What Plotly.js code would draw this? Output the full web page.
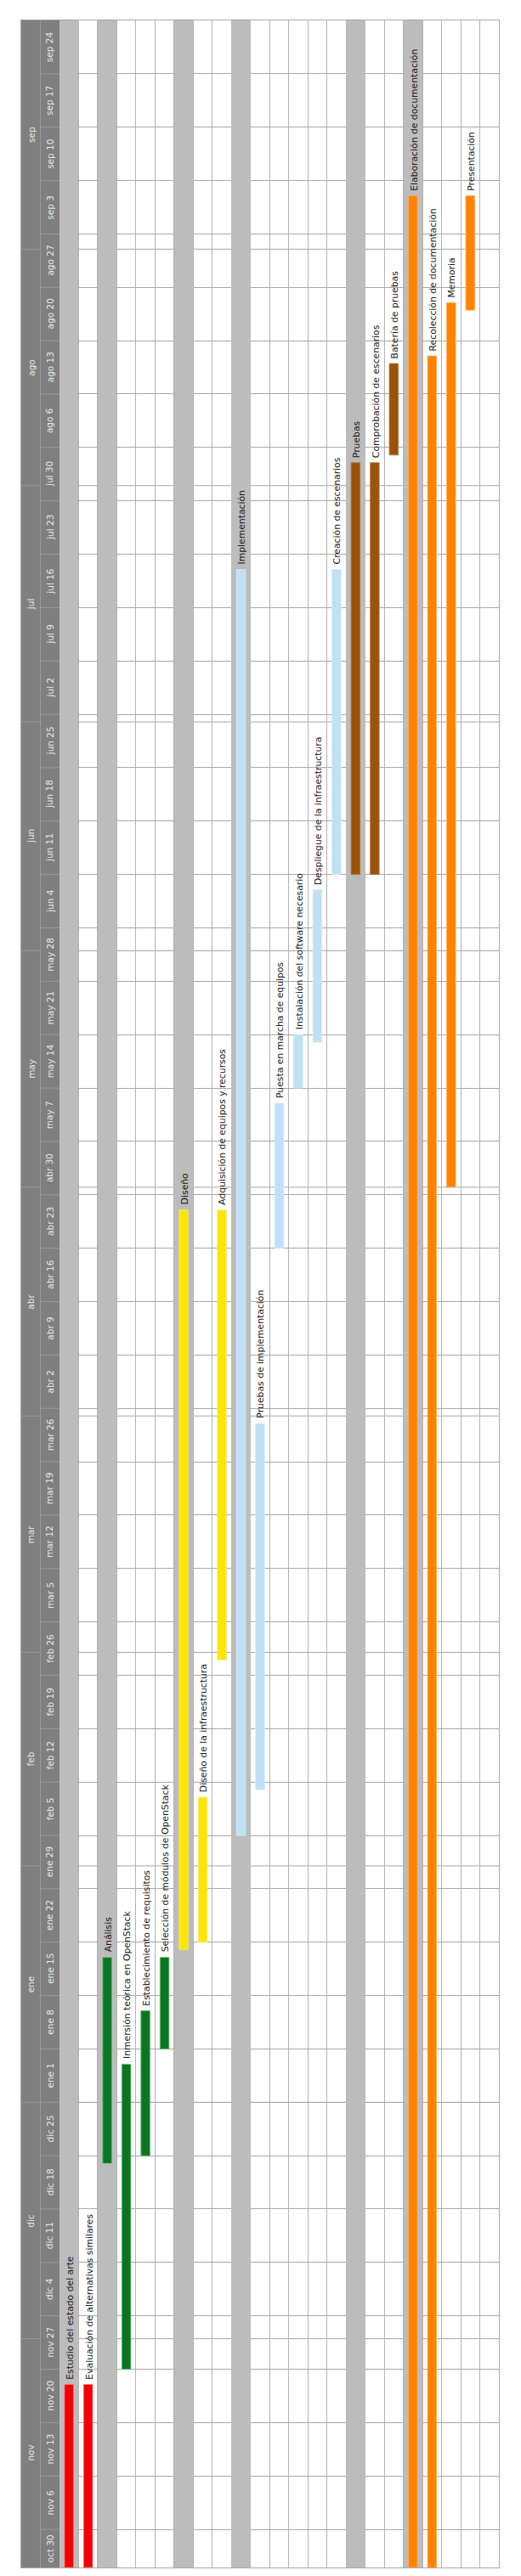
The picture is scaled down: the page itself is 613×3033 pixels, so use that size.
<!DOCTYPE html>
<html><head><meta charset="utf-8">
<script src="https://cdn.plot.ly/plotly-3.0.1.min.js"></script>
<style>html,body{margin:0;padding:0;background:#fff}#chart{width:613px;height:3033px}</style>
</head><body><div id="chart"></div>
<script>
// ---- data ----
const tasks = [
  "Estudio del estado del arte", "Evaluación de alternativas similares",
  "Análisis", "Inmersión teórica en OpenStack", "Establecimiento de requisitos", "Selección de módulos de OpenStack",
  "Diseño", "Diseño de la infraestructura", "Adquisición de equipos y recursos",
  "Implementación", "Pruebas de implementación", "Puesta en marcha de equipos", "Instalación del software necesario",
  "Despliegue de la infraestructura", "Creación de escenarios",
  "Pruebas", "Comprobación de escenarios", "Batería de pruebas",
  "Elaboración de documentación", "Recolección de documentación", "Memoria", "Presentación"
];
const isSummary = [1,0, 1,0,0,0, 1,0,0, 1,0,0,0,0,0, 1,0,0, 1,0,0,0];
const groupOf   = [0,0, 1,1,1,1, 2,2,2, 3,3,3,3,3,3, 4,4,4, 5,5,5,5];
const startDates = [
  "2017-11-01","2017-11-01",
  "2017-12-24","2017-11-27","2017-12-25","2018-01-08",
  "2018-01-21","2018-01-22","2018-02-28",
  "2018-02-05","2018-02-11","2018-04-23","2018-05-14","2018-05-20","2018-06-11",
  "2018-06-11","2018-06-11","2018-08-05",
  "2017-11-01","2017-11-01","2018-05-01","2018-08-24"
];
const endDates = [
  "2017-11-25","2017-11-25",
  "2018-01-20","2018-01-06","2018-01-13","2018-01-20",
  "2018-04-28","2018-02-10","2018-04-28",
  "2018-07-21","2018-03-31","2018-05-12","2018-05-21","2018-06-09","2018-07-21",
  "2018-08-04","2018-08-04","2018-08-17",
  "2018-09-08","2018-08-18","2018-08-25","2018-09-08"
];
const groupColors = ["#f50000","#0a7622","#ffe600","#bfe1f5","#9b5209","#ff8300"];
const groupLines  = ["#ff7a7a","#5fbf6f","#f2e98a","#d6ecf8","#b07a45","#ffb060"];

const weekLabels = ["oct 30","nov 6","nov 13","nov 20","nov 27","dic 4","dic 11","dic 18","dic 25",
  "ene 1","ene 8","ene 15","ene 22","ene 29","feb 5","feb 12","feb 19","feb 26",
  "mar 5","mar 12","mar 19","mar 26","abr 2","abr 9","abr 16","abr 23","abr 30",
  "may 7","may 14","may 21","may 28","jun 4","jun 11","jun 18","jun 25",
  "jul 2","jul 9","jul 16","jul 23","jul 30","ago 6","ago 13","ago 20","ago 27",
  "sep 3","sep 10","sep 17","sep 24"];
const firstWeekStart = "2017-10-30";
const monthLabels = ["nov","dic","ene","feb","mar","abr","may","jun","jul","ago","sep"];
const monthStarts = ["2017-11-01","2017-12-01","2018-01-01","2018-02-01","2018-03-01","2018-04-01",
  "2018-05-01","2018-06-01","2018-07-01","2018-08-01","2018-09-01","2018-10-01"];
const rangeStart = "2017-11-01", rangeEnd = "2018-10-01";

// ---- helpers ----
const DAY = 86400000;
const ms = s => Date.parse(s + "T00:00:00Z");
const ds = m => new Date(m).toISOString().slice(0,19).replace("T"," ");
const R0 = ms(rangeStart), R1 = ms(rangeEnd);
const nCols = 23;

const traces = [];
// header columns (month / week)
traces.push({type:"bar", x:[-2,-1], base:[rangeStart,rangeStart], y:[R1-R0,R1-R0], width:1,
  marker:{color:"#7f7f7f", line:{width:0}}, hoverinfo:"skip"});
// summary column backgrounds
const sumIdx = tasks.map((t,i)=>i).filter(i=>isSummary[i]);
traces.push({type:"bar", x:sumIdx, base:sumIdx.map(()=>rangeStart), y:sumIdx.map(()=>R1-R0), width:1,
  marker:{color:"#bcbcbc", line:{width:0}}, hoverinfo:"skip"});
// task bars
groupColors.forEach((c,g)=>{
  const idx = tasks.map((t,i)=>i).filter(i=>groupOf[i]===g);
  traces.push({type:"bar", x:idx, base:idx.map(i=>startDates[i]),
    y:idx.map(i=>ms(endDates[i])-ms(startDates[i])), width:0.47,
    marker:{color:c, line:{color:groupLines[g], width:0.8}}, hoverinfo:"skip"});
});

const shapes = [];
// month lines across grid
monthStarts.slice(1,-1).forEach(m=>{
  shapes.push({type:"line", xref:"x", yref:"y", x0:-0.5, x1:nCols-0.5, y0:m, y1:m,
    line:{color:"#a6a6a6", width:1}, layer:"below"});
  shapes.push({type:"line", xref:"x", yref:"y", x0:-2.5, x1:-1.5, y0:m, y1:m,
    line:{color:"#999999", width:1}, layer:"above"});
});
// week separators in header
weekLabels.forEach((w,i)=>{
  const s = ms(firstWeekStart) + i*7*DAY;
  if (s > R0 && s < R1) shapes.push({type:"line", xref:"x", yref:"y", x0:-1.5, x1:-0.5, y0:ds(s), y1:ds(s),
    line:{color:"#9a9a9a", width:1}, layer:"above"});
});
shapes.push({type:"line", xref:"x", yref:"paper", x0:-1.5, x1:-1.5, y0:0, y1:1,
  line:{color:"#9c9c9c", width:1}, layer:"above"});

const annotations = [];
weekLabels.forEach((w,i)=>{
  const s = Math.max(ms(firstWeekStart) + i*7*DAY, R0);
  const e = Math.min(ms(firstWeekStart) + (i+1)*7*DAY, R1);
  annotations.push({x:-1, y:ds((s+e)/2), xref:"x", yref:"y", text:w, showarrow:false, textangle:-90,
    xanchor:"center", yanchor:"middle", font:{size:10.5, color:"#e6e6e6", family:"DejaVu Sans"}});
});
monthLabels.forEach((m,i)=>{
  const s = ms(monthStarts[i]), e = ms(monthStarts[i+1]);
  annotations.push({x:-2, y:ds((s+e)/2), xref:"x", yref:"y", text:m, showarrow:false, textangle:-90,
    xanchor:"center", yanchor:"middle", font:{size:10.5, color:"#e6e6e6", family:"DejaVu Sans"}});
});
tasks.forEach((t,i)=>{
  annotations.push({x:i, y:endDates[i], xref:"x", yref:"y", text:t, showarrow:false, textangle:-90,
    xanchor:"center", yanchor:"bottom", yshift:4, xshift:1,
    font:{size:10.8, color:"#1a1a1a", family:"DejaVu Sans"}});
});

const layout = {
  width:613, height:3033,
  margin:{l:25, r:25.5, t:24, b:10, pad:0},
  paper_bgcolor:"#ffffff", plot_bgcolor:"#ffffff",
  showlegend:false, barmode:"overlay", bargap:0,
  font:{family:"DejaVu Sans"},
  xaxis:{range:[-2.5, nCols-0.5], tick0:0.5, dtick:1, showgrid:true, gridcolor:"#b3b3b3", gridwidth:1,
    showticklabels:false, ticks:"", zeroline:false, showline:true, mirror:true, linecolor:"#a8a8a8", fixedrange:true},
  yaxis:{type:"date", range:[rangeStart, rangeEnd], tick0:firstWeekStart, dtick:7*DAY, showgrid:true,
    gridcolor:"#a8a8a8", gridwidth:1, showticklabels:false, ticks:"", zeroline:false,
    showline:true, mirror:true, linecolor:"#a8a8a8", fixedrange:true},
  shapes:shapes, annotations:annotations
};
Plotly.newPlot("chart", traces, layout, {displayModeBar:false, staticPlot:true});
</script></body></html>
